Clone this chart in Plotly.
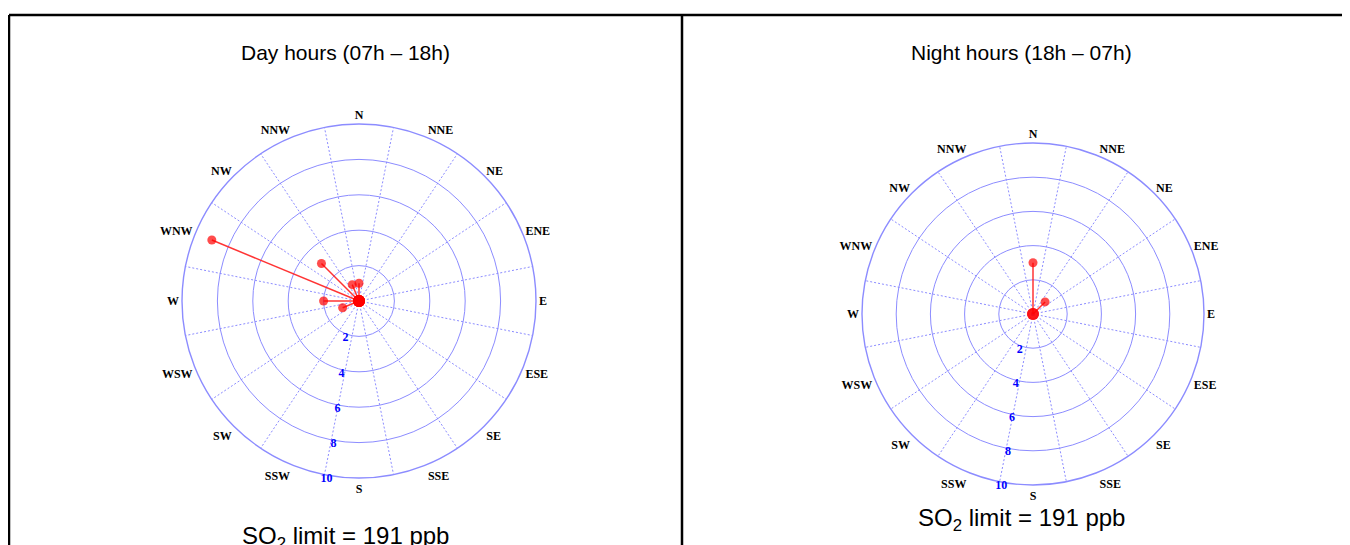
import plotly.graph_objects as go

# ---- data ----
directions = ["N", "NNE", "NE", "ENE", "E", "ESE", "SE", "SSE",
              "S", "SSW", "SW", "WSW", "W", "WNW", "NW", "NNW"]
dir_angles = [i * 22.5 for i in range(16)]
sector_edges = [11.25 + i * 22.5 for i in range(16)]
radial_ticks = [2, 4, 6, 8, 10]

day_dirs = ["WNW", "NW", "NNW", "N", "W", "WSW"]
day_vals = [9.0, 3.0, 1.0, 1.0, 2.0, 1.0]

night_dirs = ["N", "NE"]
night_vals = [3.0, 1.0]

titles = ["Day hours (07h \u2013 18h)", "Night hours (18h \u2013 07h)"]
limit_text = "SO<sub>2</sub> limit = 191 ppb"

GRID = "rgb(140,140,255)"
W, H = 1350, 545
OFF = 8  # page body margin of the browser
RAD_ANGLE = 263.5


def px(x):
    return (x - OFF) / W


def py(y):
    return 1 - (y - OFF) / H


def spoke_trace(dirs, vals):
    th, r, sizes = [], [], []
    for d, v in zip(dirs, vals):
        a = dir_angles[directions.index(d)]
        th += [a, a, None]
        r += [0, v, None]
        sizes += [12, 9, 0]
    return th, r, sizes


def dom(cx, cy, rad):
    return dict(x=[px(cx - rad), px(cx + rad)],
                y=[py(cy + rad), py(cy - rad)])


fig = go.Figure()

panels = [
    (day_dirs, day_vals, dom(359, 301, 177), "polar", "polar2"),
    (night_dirs, night_vals, dom(1033, 314, 171), "polar3", "polar4"),
]

for dirs, vals, d, grid_id, data_id in panels:
    # invisible anchor so the spoke layer is drawn
    fig.add_trace(go.Scatterpolar(theta=[0], r=[0], mode="markers", subplot=grid_id,
                                  marker=dict(opacity=0, size=1),
                                  showlegend=False, hoverinfo="skip"))
    th, r, sizes = spoke_trace(dirs, vals)
    fig.add_trace(go.Scatterpolar(
        theta=th, r=r, mode="lines+markers", subplot=data_id,
        line=dict(color="rgba(255,30,30,0.9)", width=1.5),
        marker=dict(color="rgb(255,0,0)", size=sizes, line=dict(width=0)),
        showlegend=False, hoverinfo="skip", connectgaps=False))
    # spoke-only layer
    fig.update_layout(**{grid_id: dict(
        domain=d, bgcolor="white",
        radialaxis=dict(range=[0, 10], showgrid=False, showticklabels=False,
                        showline=False, ticks=""),
        angularaxis=dict(direction="clockwise", rotation=90,
                         tickmode="array", tickvals=sector_edges,
                         showticklabels=False, ticks="", showline=False,
                         showgrid=True, gridcolor=GRID, griddash="2px,2px",
                         gridwidth=1.2),
    )})
    # rings, labels and data layer
    fig.update_layout(**{data_id: dict(
        domain=d, bgcolor="rgba(0,0,0,0)",
        radialaxis=dict(range=[0, 10], tickmode="array", tickvals=radial_ticks,
                        showgrid=True, gridcolor=GRID, gridwidth=1.4,
                        showline=False, ticks="", angle=RAD_ANGLE,
                        tickangle=RAD_ANGLE - 360,
                        tickfont=dict(family="Liberation Serif", size=12,
                                      color="blue", weight="bold")),
        angularaxis=dict(direction="clockwise", rotation=90,
                         tickmode="array", tickvals=dir_angles, ticktext=directions,
                         showgrid=False, ticks="", showline=True,
                         linecolor=GRID, linewidth=1.4,
                         tickfont=dict(family="Liberation Serif", size=12,
                                       color="black", weight="bold")),
    )})

# titles and limit captions
for x, t in zip([345, 1021], titles):
    fig.add_annotation(x=px(x), y=py(52), xref="paper", yref="paper",
                       xanchor="center", yanchor="middle",
                       text=t, showarrow=False,
                       font=dict(family="Liberation Sans", size=21, color="black"))
for x, y in [(345, 537), (1021, 519)]:
    fig.add_annotation(x=px(x), y=py(y), xref="paper", yref="paper",
                       xanchor="center", yanchor="middle",
                       text=limit_text, showarrow=False,
                       font=dict(family="Liberation Sans", size=24, color="black"))

# table-like frame
line = dict(color="black", width=2.5)
fig.add_shape(type="line", xref="paper", yref="paper",
              x0=px(9), x1=1, y0=py(15), y1=py(15), line=line)
fig.add_shape(type="line", xref="paper", yref="paper",
              x0=px(9), x1=px(9), y0=0, y1=py(15), line=line)
fig.add_shape(type="line", xref="paper", yref="paper",
              x0=px(682), x1=px(682), y0=0, y1=py(15), line=line)

fig.update_layout(width=W, height=H, margin=dict(l=0, r=0, t=0, b=0),
                  paper_bgcolor="white", plot_bgcolor="white")

fig.write_html("out.html")
